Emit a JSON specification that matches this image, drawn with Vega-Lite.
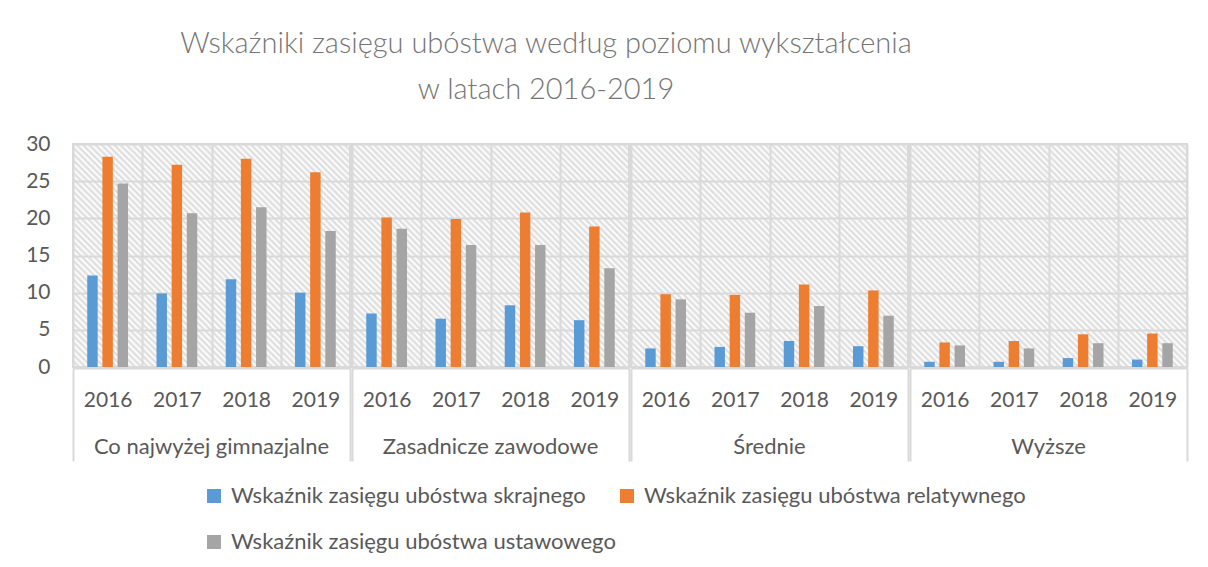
{
  "$schema": "https://vega.github.io/schema/vega-lite/v6.json",
  "background": "white",
  "padding": {"left": 25, "top": 30, "right": 10, "bottom": 10},
  "title": {
    "text": ["Wskaźniki zasięgu ubóstwa według poziomu wykształcenia", "w latach 2016-2019"],
    "anchor": "middle",
    "frame": "group",
    "dx": 473,
    "offset": 28,
    "font": "Lato",
    "fontSize": 29,
    "fontWeight": 300,
    "lineHeight": 46,
    "color": "#757575"
  },
  "data": {
    "values": [
      {"g": "Co najwyżej gimnazjalne", "y": "2016", "s": "Wskaźnik zasięgu ubóstwa skrajnego", "v": 12.3},
      {"g": "Co najwyżej gimnazjalne", "y": "2016", "s": "Wskaźnik zasięgu ubóstwa relatywnego", "v": 28.3},
      {"g": "Co najwyżej gimnazjalne", "y": "2016", "s": "Wskaźnik zasięgu ubóstwa ustawowego", "v": 24.7},
      {"g": "Co najwyżej gimnazjalne", "y": "2017", "s": "Wskaźnik zasięgu ubóstwa skrajnego", "v": 9.9},
      {"g": "Co najwyżej gimnazjalne", "y": "2017", "s": "Wskaźnik zasięgu ubóstwa relatywnego", "v": 27.2},
      {"g": "Co najwyżej gimnazjalne", "y": "2017", "s": "Wskaźnik zasięgu ubóstwa ustawowego", "v": 20.7},
      {"g": "Co najwyżej gimnazjalne", "y": "2018", "s": "Wskaźnik zasięgu ubóstwa skrajnego", "v": 11.8},
      {"g": "Co najwyżej gimnazjalne", "y": "2018", "s": "Wskaźnik zasięgu ubóstwa relatywnego", "v": 28.0},
      {"g": "Co najwyżej gimnazjalne", "y": "2018", "s": "Wskaźnik zasięgu ubóstwa ustawowego", "v": 21.5},
      {"g": "Co najwyżej gimnazjalne", "y": "2019", "s": "Wskaźnik zasięgu ubóstwa skrajnego", "v": 10.0},
      {"g": "Co najwyżej gimnazjalne", "y": "2019", "s": "Wskaźnik zasięgu ubóstwa relatywnego", "v": 26.2},
      {"g": "Co najwyżej gimnazjalne", "y": "2019", "s": "Wskaźnik zasięgu ubóstwa ustawowego", "v": 18.3},
      {"g": "Zasadnicze zawodowe", "y": "2016", "s": "Wskaźnik zasięgu ubóstwa skrajnego", "v": 7.2},
      {"g": "Zasadnicze zawodowe", "y": "2016", "s": "Wskaźnik zasięgu ubóstwa relatywnego", "v": 20.1},
      {"g": "Zasadnicze zawodowe", "y": "2016", "s": "Wskaźnik zasięgu ubóstwa ustawowego", "v": 18.6},
      {"g": "Zasadnicze zawodowe", "y": "2017", "s": "Wskaźnik zasięgu ubóstwa skrajnego", "v": 6.5},
      {"g": "Zasadnicze zawodowe", "y": "2017", "s": "Wskaźnik zasięgu ubóstwa relatywnego", "v": 19.9},
      {"g": "Zasadnicze zawodowe", "y": "2017", "s": "Wskaźnik zasięgu ubóstwa ustawowego", "v": 16.4},
      {"g": "Zasadnicze zawodowe", "y": "2018", "s": "Wskaźnik zasięgu ubóstwa skrajnego", "v": 8.3},
      {"g": "Zasadnicze zawodowe", "y": "2018", "s": "Wskaźnik zasięgu ubóstwa relatywnego", "v": 20.8},
      {"g": "Zasadnicze zawodowe", "y": "2018", "s": "Wskaźnik zasięgu ubóstwa ustawowego", "v": 16.4},
      {"g": "Zasadnicze zawodowe", "y": "2019", "s": "Wskaźnik zasięgu ubóstwa skrajnego", "v": 6.3},
      {"g": "Zasadnicze zawodowe", "y": "2019", "s": "Wskaźnik zasięgu ubóstwa relatywnego", "v": 18.9},
      {"g": "Zasadnicze zawodowe", "y": "2019", "s": "Wskaźnik zasięgu ubóstwa ustawowego", "v": 13.3},
      {"g": "Średnie", "y": "2016", "s": "Wskaźnik zasięgu ubóstwa skrajnego", "v": 2.5},
      {"g": "Średnie", "y": "2016", "s": "Wskaźnik zasięgu ubóstwa relatywnego", "v": 9.8},
      {"g": "Średnie", "y": "2016", "s": "Wskaźnik zasięgu ubóstwa ustawowego", "v": 9.1},
      {"g": "Średnie", "y": "2017", "s": "Wskaźnik zasięgu ubóstwa skrajnego", "v": 2.7},
      {"g": "Średnie", "y": "2017", "s": "Wskaźnik zasięgu ubóstwa relatywnego", "v": 9.7},
      {"g": "Średnie", "y": "2017", "s": "Wskaźnik zasięgu ubóstwa ustawowego", "v": 7.3},
      {"g": "Średnie", "y": "2018", "s": "Wskaźnik zasięgu ubóstwa skrajnego", "v": 3.5},
      {"g": "Średnie", "y": "2018", "s": "Wskaźnik zasięgu ubóstwa relatywnego", "v": 11.1},
      {"g": "Średnie", "y": "2018", "s": "Wskaźnik zasięgu ubóstwa ustawowego", "v": 8.2},
      {"g": "Średnie", "y": "2019", "s": "Wskaźnik zasięgu ubóstwa skrajnego", "v": 2.8},
      {"g": "Średnie", "y": "2019", "s": "Wskaźnik zasięgu ubóstwa relatywnego", "v": 10.3},
      {"g": "Średnie", "y": "2019", "s": "Wskaźnik zasięgu ubóstwa ustawowego", "v": 6.9},
      {"g": "Wyższe", "y": "2016", "s": "Wskaźnik zasięgu ubóstwa skrajnego", "v": 0.7},
      {"g": "Wyższe", "y": "2016", "s": "Wskaźnik zasięgu ubóstwa relatywnego", "v": 3.3},
      {"g": "Wyższe", "y": "2016", "s": "Wskaźnik zasięgu ubóstwa ustawowego", "v": 2.9},
      {"g": "Wyższe", "y": "2017", "s": "Wskaźnik zasięgu ubóstwa skrajnego", "v": 0.7},
      {"g": "Wyższe", "y": "2017", "s": "Wskaźnik zasięgu ubóstwa relatywnego", "v": 3.5},
      {"g": "Wyższe", "y": "2017", "s": "Wskaźnik zasięgu ubóstwa ustawowego", "v": 2.5},
      {"g": "Wyższe", "y": "2018", "s": "Wskaźnik zasięgu ubóstwa skrajnego", "v": 1.2},
      {"g": "Wyższe", "y": "2018", "s": "Wskaźnik zasięgu ubóstwa relatywnego", "v": 4.4},
      {"g": "Wyższe", "y": "2018", "s": "Wskaźnik zasięgu ubóstwa ustawowego", "v": 3.2},
      {"g": "Wyższe", "y": "2019", "s": "Wskaźnik zasięgu ubóstwa skrajnego", "v": 1.0},
      {"g": "Wyższe", "y": "2019", "s": "Wskaźnik zasięgu ubóstwa relatywnego", "v": 4.5},
      {"g": "Wyższe", "y": "2019", "s": "Wskaźnik zasięgu ubóstwa ustawowego", "v": 3.2}
    ]
  },
  "facet": {
    "column": {
      "field": "g",
      "type": "nominal",
      "sort": ["Co najwyżej gimnazjalne", "Zasadnicze zawodowe", "Średnie", "Wyższe"],
      "title": null,
      "header": {
        "labelOrient": "bottom",
        "labelFont": "Lato",
        "labelFontSize": 22,
        "labelColor": "#595959",
        "labelPadding": -25
      }
    }
  },
  "spacing": {"column": 0},
  "spec": {
    "width": 277,
    "height": 223,
    "mark": {"type": "bar"},
    "encoding": {
      "x": {
        "field": "y",
        "type": "nominal",
        "scale": {"paddingInner": 0, "paddingOuter": 0},
        "axis": {
          "title": null,
          "labelAngle": 0,
          "labelFont": "Lato",
          "labelFontSize": 21,
          "labelColor": "#595959",
          "grid": true,
          "gridColor": "#d9d9d9",
          "gridWidth": 2,
          "tickBand": "extent",
          "domainColor": "#d9d9d9",
          "domainWidth": 2,
          "tickColor": "#d9d9d9",
          "tickWidth": 2,
          "tickSize": 93,
          "tickOpacity": {"condition": {"test": "datum.value === '2019' || datum.extra", "value": 1}, "value": 0},
          "labelPadding": -72
        }
      },
      "xOffset": {
        "field": "s",
        "type": "nominal",
        "sort": ["Wskaźnik zasięgu ubóstwa skrajnego", "Wskaźnik zasięgu ubóstwa relatywnego", "Wskaźnik zasięgu ubóstwa ustawowego"],
        "scale": {"paddingInner": 0.31, "paddingOuter": 0.94}
      },
      "y": {
        "field": "v",
        "type": "quantitative",
        "scale": {"domain": [0, 30], "nice": false},
        "axis": {
          "title": null,
          "values": [0, 5, 10, 15, 20, 25, 30],
          "grid": true,
          "gridColor": "#d9d9d9",
          "gridWidth": 2,
          "domain": false,
          "ticks": false,
          "labelPadding": 22,
          "labelFont": "Lato",
          "labelFontSize": 21,
          "labelColor": "#595959"
        }
      },
      "color": {
        "field": "s",
        "type": "nominal",
        "scale": {
          "domain": ["Wskaźnik zasięgu ubóstwa skrajnego", "Wskaźnik zasięgu ubóstwa relatywnego", "Wskaźnik zasięgu ubóstwa ustawowego"],
          "range": ["#5b9bd5", "#ed7d31", "#a5a5a5"]
        },
        "legend": {
          "title": null,
          "orient": "none",
          "legendX": 130,
          "legendY": 341,
          "columns": 2,
          "direction": "horizontal",
          "symbolType": "square",
          "symbolSize": 196,
          "symbolStrokeWidth": 0,
          "symbolOpacity": 1,
          "labelFont": "Lato",
          "labelFontSize": 22,
          "labelColor": "#595959",
          "labelOffset": 6,
          "labelLimit": 0,
          "columnPadding": -2,
          "rowPadding": 24
        }
      }
    }
  },
  "config": {
    "font": "Lato",
    "view": {
      "stroke": "#d9d9d9",
      "strokeWidth": 2,
      "fill": {
        "gradient": "linear", "x1": 0, "y1": 1, "x2": 1.0979, "y2": 0.1225,
        "stops": [
          {"offset": 0, "color": "#dadada"}, {"offset": 0.00625, "color": "#ffffff"}, {"offset": 0.0125, "color": "#dadada"}, {"offset": 0.01875, "color": "#ffffff"}, {"offset": 0.025, "color": "#dadada"}, {"offset": 0.03125, "color": "#ffffff"}, {"offset": 0.0375, "color": "#dadada"}, {"offset": 0.04375, "color": "#ffffff"}, {"offset": 0.05, "color": "#dadada"}, {"offset": 0.05625, "color": "#ffffff"}, {"offset": 0.0625, "color": "#dadada"}, {"offset": 0.06875, "color": "#ffffff"}, {"offset": 0.075, "color": "#dadada"}, {"offset": 0.08125, "color": "#ffffff"}, {"offset": 0.0875, "color": "#dadada"}, {"offset": 0.09375, "color": "#ffffff"},
          {"offset": 0.1, "color": "#dadada"}, {"offset": 0.10625, "color": "#ffffff"}, {"offset": 0.1125, "color": "#dadada"}, {"offset": 0.11875, "color": "#ffffff"}, {"offset": 0.125, "color": "#dadada"}, {"offset": 0.13125, "color": "#ffffff"}, {"offset": 0.1375, "color": "#dadada"}, {"offset": 0.14375, "color": "#ffffff"}, {"offset": 0.15, "color": "#dadada"}, {"offset": 0.15625, "color": "#ffffff"}, {"offset": 0.1625, "color": "#dadada"}, {"offset": 0.16875, "color": "#ffffff"}, {"offset": 0.175, "color": "#dadada"}, {"offset": 0.18125, "color": "#ffffff"}, {"offset": 0.1875, "color": "#dadada"}, {"offset": 0.19375, "color": "#ffffff"},
          {"offset": 0.2, "color": "#dadada"}, {"offset": 0.20625, "color": "#ffffff"}, {"offset": 0.2125, "color": "#dadada"}, {"offset": 0.21875, "color": "#ffffff"}, {"offset": 0.225, "color": "#dadada"}, {"offset": 0.23125, "color": "#ffffff"}, {"offset": 0.2375, "color": "#dadada"}, {"offset": 0.24375, "color": "#ffffff"}, {"offset": 0.25, "color": "#dadada"}, {"offset": 0.25625, "color": "#ffffff"}, {"offset": 0.2625, "color": "#dadada"}, {"offset": 0.26875, "color": "#ffffff"}, {"offset": 0.275, "color": "#dadada"}, {"offset": 0.28125, "color": "#ffffff"}, {"offset": 0.2875, "color": "#dadada"}, {"offset": 0.29375, "color": "#ffffff"},
          {"offset": 0.3, "color": "#dadada"}, {"offset": 0.30625, "color": "#ffffff"}, {"offset": 0.3125, "color": "#dadada"}, {"offset": 0.31875, "color": "#ffffff"}, {"offset": 0.325, "color": "#dadada"}, {"offset": 0.33125, "color": "#ffffff"}, {"offset": 0.3375, "color": "#dadada"}, {"offset": 0.34375, "color": "#ffffff"}, {"offset": 0.35, "color": "#dadada"}, {"offset": 0.35625, "color": "#ffffff"}, {"offset": 0.3625, "color": "#dadada"}, {"offset": 0.36875, "color": "#ffffff"}, {"offset": 0.375, "color": "#dadada"}, {"offset": 0.38125, "color": "#ffffff"}, {"offset": 0.3875, "color": "#dadada"}, {"offset": 0.39375, "color": "#ffffff"},
          {"offset": 0.4, "color": "#dadada"}, {"offset": 0.40625, "color": "#ffffff"}, {"offset": 0.4125, "color": "#dadada"}, {"offset": 0.41875, "color": "#ffffff"}, {"offset": 0.425, "color": "#dadada"}, {"offset": 0.43125, "color": "#ffffff"}, {"offset": 0.4375, "color": "#dadada"}, {"offset": 0.44375, "color": "#ffffff"}, {"offset": 0.45, "color": "#dadada"}, {"offset": 0.45625, "color": "#ffffff"}, {"offset": 0.4625, "color": "#dadada"}, {"offset": 0.46875, "color": "#ffffff"}, {"offset": 0.475, "color": "#dadada"}, {"offset": 0.48125, "color": "#ffffff"}, {"offset": 0.4875, "color": "#dadada"}, {"offset": 0.49375, "color": "#ffffff"},
          {"offset": 0.5, "color": "#dadada"}, {"offset": 0.50625, "color": "#ffffff"}, {"offset": 0.5125, "color": "#dadada"}, {"offset": 0.51875, "color": "#ffffff"}, {"offset": 0.525, "color": "#dadada"}, {"offset": 0.53125, "color": "#ffffff"}, {"offset": 0.5375, "color": "#dadada"}, {"offset": 0.54375, "color": "#ffffff"}, {"offset": 0.55, "color": "#dadada"}, {"offset": 0.55625, "color": "#ffffff"}, {"offset": 0.5625, "color": "#dadada"}, {"offset": 0.56875, "color": "#ffffff"}, {"offset": 0.575, "color": "#dadada"}, {"offset": 0.58125, "color": "#ffffff"}, {"offset": 0.5875, "color": "#dadada"}, {"offset": 0.59375, "color": "#ffffff"},
          {"offset": 0.6, "color": "#dadada"}, {"offset": 0.60625, "color": "#ffffff"}, {"offset": 0.6125, "color": "#dadada"}, {"offset": 0.61875, "color": "#ffffff"}, {"offset": 0.625, "color": "#dadada"}, {"offset": 0.63125, "color": "#ffffff"}, {"offset": 0.6375, "color": "#dadada"}, {"offset": 0.64375, "color": "#ffffff"}, {"offset": 0.65, "color": "#dadada"}, {"offset": 0.65625, "color": "#ffffff"}, {"offset": 0.6625, "color": "#dadada"}, {"offset": 0.66875, "color": "#ffffff"}, {"offset": 0.675, "color": "#dadada"}, {"offset": 0.68125, "color": "#ffffff"}, {"offset": 0.6875, "color": "#dadada"}, {"offset": 0.69375, "color": "#ffffff"},
          {"offset": 0.7, "color": "#dadada"}, {"offset": 0.70625, "color": "#ffffff"}, {"offset": 0.7125, "color": "#dadada"}, {"offset": 0.71875, "color": "#ffffff"}, {"offset": 0.725, "color": "#dadada"}, {"offset": 0.73125, "color": "#ffffff"}, {"offset": 0.7375, "color": "#dadada"}, {"offset": 0.74375, "color": "#ffffff"}, {"offset": 0.75, "color": "#dadada"}, {"offset": 0.75625, "color": "#ffffff"}, {"offset": 0.7625, "color": "#dadada"}, {"offset": 0.76875, "color": "#ffffff"}, {"offset": 0.775, "color": "#dadada"}, {"offset": 0.78125, "color": "#ffffff"}, {"offset": 0.7875, "color": "#dadada"}, {"offset": 0.79375, "color": "#ffffff"},
          {"offset": 0.8, "color": "#dadada"}, {"offset": 0.80625, "color": "#ffffff"}, {"offset": 0.8125, "color": "#dadada"}, {"offset": 0.81875, "color": "#ffffff"}, {"offset": 0.825, "color": "#dadada"}, {"offset": 0.83125, "color": "#ffffff"}, {"offset": 0.8375, "color": "#dadada"}, {"offset": 0.84375, "color": "#ffffff"}, {"offset": 0.85, "color": "#dadada"}, {"offset": 0.85625, "color": "#ffffff"}, {"offset": 0.8625, "color": "#dadada"}, {"offset": 0.86875, "color": "#ffffff"}, {"offset": 0.875, "color": "#dadada"}, {"offset": 0.88125, "color": "#ffffff"}, {"offset": 0.8875, "color": "#dadada"}, {"offset": 0.89375, "color": "#ffffff"},
          {"offset": 0.9, "color": "#dadada"}, {"offset": 0.90625, "color": "#ffffff"}, {"offset": 0.9125, "color": "#dadada"}, {"offset": 0.91875, "color": "#ffffff"}, {"offset": 0.925, "color": "#dadada"}, {"offset": 0.93125, "color": "#ffffff"}, {"offset": 0.9375, "color": "#dadada"}, {"offset": 0.94375, "color": "#ffffff"}, {"offset": 0.95, "color": "#dadada"}, {"offset": 0.95625, "color": "#ffffff"}, {"offset": 0.9625, "color": "#dadada"}, {"offset": 0.96875, "color": "#ffffff"}, {"offset": 0.975, "color": "#dadada"}, {"offset": 0.98125, "color": "#ffffff"}, {"offset": 0.9875, "color": "#dadada"}, {"offset": 0.99375, "color": "#ffffff"},
          {"offset": 1, "color": "#dadada"}
        ]
      }
    }
  }
}
